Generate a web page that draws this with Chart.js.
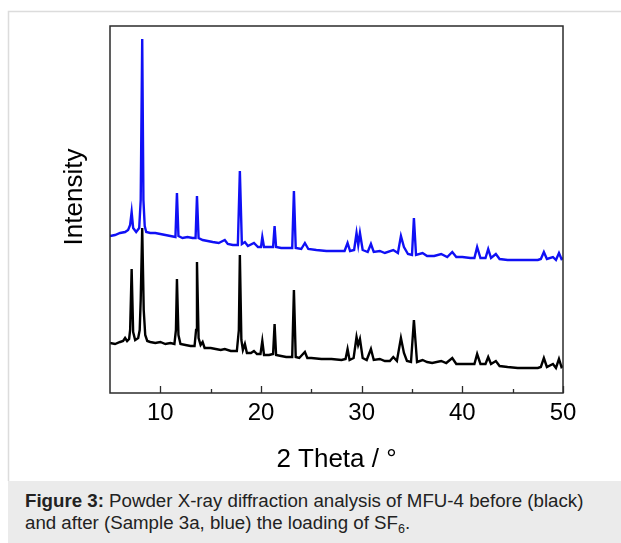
<!DOCTYPE html>
<html>
<head>
<meta charset="utf-8">
<script src="https://cdn.jsdelivr.net/npm/chart.js@4/dist/chart.umd.min.js"></script>
<style>
  html, body { margin: 0; padding: 0; background: #fff; }
  body { width: 621px; height: 543px; position: relative; overflow: hidden; font-family: "Liberation Sans", Arial, sans-serif; }
  #wrap { position: absolute; left: 0; top: 0; width: 621px; height: 481px; }
  #caption { position: absolute; left: 8px; top: 481px; width: 613px; height: 62px; background: #ebebeb; box-sizing: border-box; padding: 9px 0 0 17px; font-size: 18.7px; line-height: 22px; color: #222; white-space: nowrap; }
  #caption sub { font-size: 12.5px; vertical-align: -4px; line-height: 0; }
</style>
</head>
<body>
<div id="wrap"><canvas id="c" width="621" height="481"></canvas></div>
<div id="caption"><b>Figure 3:</b> Powder X-ray diffraction analysis of MFU-4 before (black)<br>and after (Sample 3a, blue) the loading of SF<sub>6</sub>.</div>
<script>
// ---- data ----
const xTickValues = [10, 20, 30, 40, 50];
const xMinorTicks = [15, 25, 35, 45];

// MFU-4 before loading (black)
const blackTheta = [5.0,5.5,6.0,6.3,6.5,6.7,6.9,7.0,7.15,7.3,7.5,7.8,7.95,8.05,8.2,8.35,8.5,8.7,9.0,9.5,10.0,10.5,11.0,11.4,11.55,11.65,11.8,12.0,12.5,13.0,13.4,13.55,13.64,13.8,14.0,14.2,14.4,15.0,15.5,16.0,16.4,17.0,17.6,17.8,17.9,18.05,18.2,18.4,18.6,19.0,19.3,19.6,19.95,20.13,20.3,20.8,21.2,21.35,21.5,22.0,22.5,23.1,23.27,23.45,23.8,24.36,24.6,25.0,26.0,27.0,28.0,28.4,28.6,28.8,29.2,29.49,29.65,29.83,30.1,30.5,30.92,31.2,31.8,32.3,32.8,33.14,33.5,33.9,34.2,34.5,34.9,35.19,35.5,36.05,36.5,37.0,37.9,38.4,39.0,39.4,40.0,40.8,41.2,41.47,41.8,42.3,42.57,42.85,43.33,43.7,44.5,45.5,46.5,47.5,47.8,48.1,48.4,49.0,49.3,49.6,49.85,50.0];
const blackIntensity = [50,49,51,52,55,52,54,63,124,61,53,55,63,93,165,83,58,52,51,50,51,49,50,49,63,114,58,49,48,47,47,63,131,55,48,51,45,45,44,43,44,42,42,63,138,53,43,49,40,40,42,39,39,52,38,38,39,69,38,37,36,36,103,36,35,41,35,35,34,34,33,34,44,33,35,56,48,54,35,33,44,33,34,32,32,36,32,55,40,32,31,73,31,33,31,30,32,30,35,29,29,29,29,39,29,29,36,29,32,27,26,25,25,25,26,35,26,29,25,34,26,27];

// Sample 3a after SF6 loading (blue)
const blueTheta = [5.0,5.5,6.0,6.5,6.8,7.0,7.15,7.3,7.6,7.9,8.05,8.2,8.32,8.45,8.6,9.0,9.5,10.0,10.5,11.0,11.5,11.65,11.8,12.2,12.7,13.2,13.5,13.64,13.8,14.2,14.7,15.2,15.8,16.4,16.7,17.2,17.7,17.9,18.1,18.4,18.7,19.3,19.7,20.0,20.13,20.3,21.0,21.2,21.35,21.5,22.0,22.6,23.1,23.27,23.45,24.0,24.36,24.7,25.5,26.5,27.5,28.3,28.6,28.85,29.25,29.49,29.66,29.83,30.1,30.6,30.92,31.2,31.8,32.3,33.14,33.6,33.9,34.2,34.6,35.0,35.19,35.4,36.05,36.5,37.2,37.9,38.5,39.0,39.4,40.0,40.8,41.2,41.47,41.8,42.3,42.57,42.85,43.33,43.7,44.5,45.5,46.5,47.5,47.8,48.1,48.4,49.0,49.3,49.6,49.85,50.0];
const blueIntensity = [157,158,160,161,163,168,181,165,161,165,193,354,193,167,161,160,160,159,158,157,156,200,157,155,156,155,155,197,155,153,152,151,150,153,149,148,148,222,149,151,147,150,146,146,156,146,146,146,167,146,145,145,145,202,145,144,150,144,143,142,142,142,150,142,143,160,148,160,143,141,149,141,142,140,143,140,157,146,139,138,175,138,140,137,137,139,136,141,136,136,135,135,146,135,135,144,135,139,134,133,133,133,133,134,141,134,136,133,140,134,135];

const xTitle = '2 Theta / \u00B0';
const yTitle = 'Intensity';

const toPts = (xs, ys) => xs.map((x, i) => ({ x: x, y: ys[i] }));

const framePlugin = {
  id: 'frame',
  beforeDraw(chart) {
    const ctx = chart.ctx;
    ctx.save();
    ctx.fillStyle = '#fff';
    ctx.fillRect(0, 0, chart.width, chart.height);
    ctx.strokeStyle = '#dcdcdc';
    ctx.lineWidth = 1.5;
    ctx.beginPath();
    ctx.moveTo(8.5, chart.height);
    ctx.lineTo(8.5, 11.5);
    ctx.lineTo(chart.width, 11.5);
    ctx.stroke();
    ctx.restore();
  },
  afterDraw(chart) {
    const ctx = chart.ctx;
    const a = chart.chartArea;
    const xs = chart.scales.x;
    ctx.save();
    ctx.strokeStyle = '#2b2b2b';
    ctx.lineWidth = 1.5;
    ctx.strokeRect(a.left, a.top, a.right - a.left, a.bottom - a.top);
    ctx.lineWidth = 1.3;
    ctx.beginPath();
    xTickValues.forEach(v => {
      const px = Math.round(xs.getPixelForValue(v)) + 0.5;
      ctx.moveTo(px, a.bottom);
      ctx.lineTo(px, a.bottom - 7);
    });
    xMinorTicks.forEach(v => {
      const px = Math.round(xs.getPixelForValue(v)) + 0.5;
      ctx.moveTo(px, a.bottom);
      ctx.lineTo(px, a.bottom - 4);
    });
    ctx.stroke();
    ctx.fillStyle = '#000';
    ctx.font = '26px "Liberation Sans", Arial, sans-serif';
    ctx.textAlign = 'center';
    ctx.textBaseline = 'alphabetic';
    ctx.translate(81.5, 197);
    ctx.rotate(-Math.PI / 2);
    ctx.fillText(yTitle, 0, 0);
    ctx.restore();
  }
};

new Chart(document.getElementById('c'), {
  type: 'scatter',
  data: {
    datasets: [
      { label: 'after (Sample 3a)', data: toPts(blueTheta, blueIntensity), showLine: true, borderColor: '#1010f5', borderWidth: 2.4, pointRadius: 0, tension: 0 },
      { label: 'before', data: toPts(blackTheta, blackIntensity), showLine: true, borderColor: '#000000', borderWidth: 2.4, pointRadius: 0, tension: 0 }
    ]
  },
  options: {
    responsive: false,
    animation: false,
    devicePixelRatio: 1,
    layout: { padding: { left: 0, top: 26, right: 58, bottom: 0 } },
    plugins: { legend: { display: false }, tooltip: { enabled: false } },
    scales: {
      x: {
        type: 'linear', min: 5, max: 50,
        afterBuildTicks: s => { s.ticks = xTickValues.map(v => ({ value: v })); },
        afterFit: s => { s.height = 88; },
        grid: { display: false, drawTicks: false },
        border: { display: false },
        ticks: { color: '#000', padding: 6, maxRotation: 0, autoSkip: false, font: { family: '"Liberation Sans", Arial, sans-serif', size: 24 } },
        title: { display: true, text: xTitle, color: '#000', padding: { top: 0, bottom: 6 }, font: { family: '"Liberation Sans", Arial, sans-serif', size: 26 } }
      },
      y: {
        type: 'linear', min: 0, max: 367,
        afterFit: s => { s.width = 110; },
        grid: { display: false, drawTicks: false },
        border: { display: false },
        ticks: { display: false }
      }
    }
  },
  plugins: [framePlugin]
});
</script>
</body>
</html>
